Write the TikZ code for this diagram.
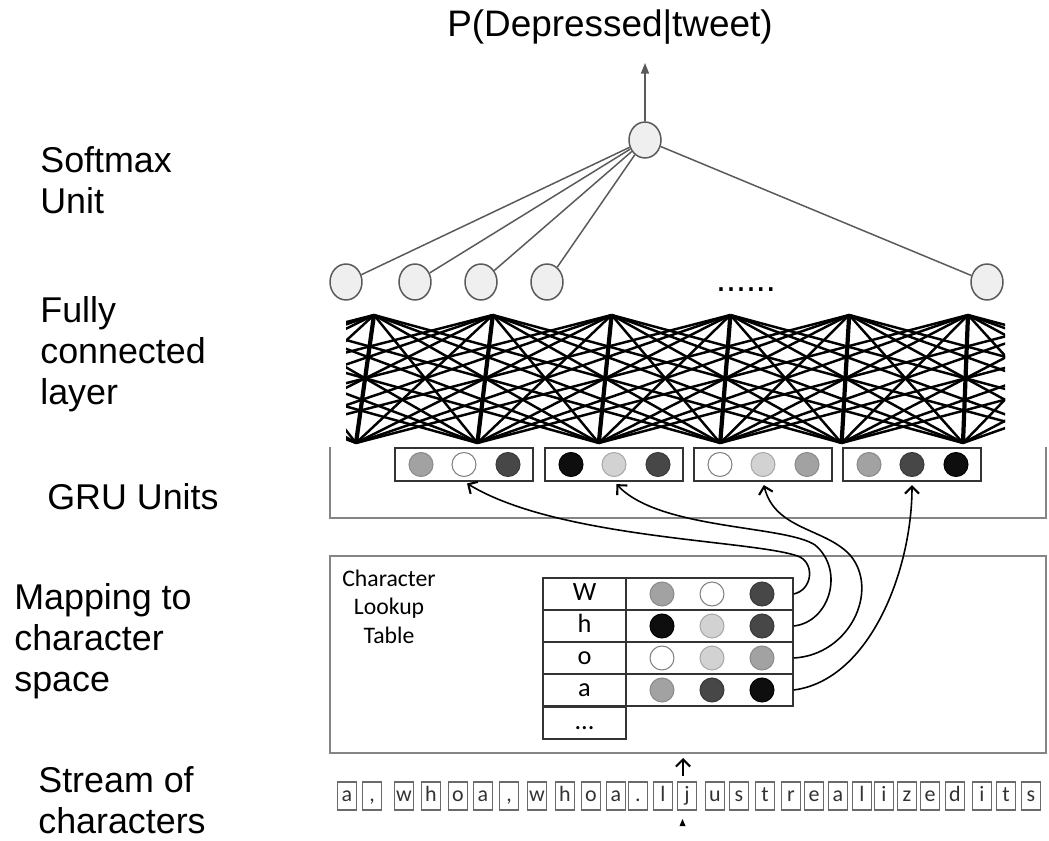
\documentclass[tikz,border=0pt]{standalone}
\usepackage{fontspec}
\setmainfont{Liberation Sans}
\newfontfamily\calfont{Carlito}
\usepackage{tikz}
\usetikzlibrary{arrows.meta,positioning,shapes.geometric}

\definecolor{edgegray}{HTML}{5A5A5A}
\definecolor{nodefill}{HTML}{EFEFEF}
\definecolor{panelgray}{HTML}{858585}
\definecolor{tabgray}{HTML}{333333}
\definecolor{dmidc}{HTML}{A2A2A2}
\definecolor{dlightc}{HTML}{D2D2D2}
\definecolor{ddarkc}{HTML}{474747}
\definecolor{dblackc}{HTML}{0E0E0E}

\begin{document}
\begin{tikzpicture}[
  x=0.02cm, y=-0.02cm,
  lbl/.style={anchor=north west, align=left, inner sep=0,
    font=\fontsize{20.4}{23.2}\selectfont},
  unit/.style={ellipse, draw=edgegray, fill=nodefill, line width=0.85pt,
    minimum width=0.64cm, minimum height=0.72cm, inner sep=0},
  edge/.style={draw=edgegray, line width=0.85pt},
  wire/.style={line width=1.4pt, black},
  panel/.style={draw=panelgray, line width=0.85pt},
  unitbox/.style={rectangle, draw=tabgray, line width=0.7pt,
    minimum width=2.76cm, minimum height=0.66cm, inner sep=0},
  dot/.style={circle, minimum size=0.48cm, inner sep=0, line width=0.6pt},
  dmid/.style={fill=dmidc, draw=dmidc!85!black},
  dwhite/.style={fill=white, draw=gray},
  dlight/.style={fill=dlightc, draw=dlightc!80!black},
  ddark/.style={fill=ddarkc, draw=ddarkc!80!black},
  dblack/.style={fill=dblackc, draw=black},
  keycell/.style={rectangle, draw=tabgray, line width=0.8pt, inner sep=0,
    minimum width=1.66cm, minimum height=0.64cm, text height=1.6ex, text depth=0.3ex,
    font=\calfont\fontsize{15}{17}\selectfont},
  veccell/.style={keycell, minimum width=3.34cm},
  chbox/.style={rectangle, draw=panelgray!80!black, line width=0.7pt, inner sep=0,
    minimum width=0.38cm, minimum height=0.56cm, text height=1.6ex, text depth=0.4ex,
    text=tabgray, font=\calfont\fontsize{12.5}{14}\selectfont},
  link/.style={line width=0.9pt, -{Straight Barb[length=4pt,width=8pt,line width=1.2pt]}, shorten >=2pt}
]
  \useasboundingbox (0,0) rectangle (1049,841);

  % layer names
  \node[lbl] (lsm) at (40,146.5) {Softmax\\Unit};
  \node[lbl] (lfc) at (40,296.5) {Fully\\connected\\layer};
  \node[lbl] (lgru) at (47,483.5) {GRU Units};
  \node[lbl] (lmap) at (14,583.5) {Mapping to\\character\\space};
  \node[lbl] (lstr) at (38,766.5) {Stream of\\characters};

  % softmax and output
  \node[font=\fontsize{21}{24}\selectfont, anchor=base] (title) at (610,37) {P(Depressed|tweet)};
  \node[unit] (sm) at (645,140) {};
  \coordinate (out) at (645,63);
  \draw[edge, -{Triangle[length=6pt,width=4.5pt]}] (sm) -- (out);
  \foreach \x [count=\k] in {346,415,481,547,987}
    \node[unit] (h\k) at (\x,282) {};
  \foreach \k in {1,...,5}
    \draw[edge] (sm) -- (h\k);
  \node[font=\fontsize{20.4}{24}\selectfont, anchor=base] (more) at (746,292) {......};

  % panels
  \draw[panel] (330,447) |- (1046,518) -- (1046,447);
  \draw[panel] (330,556) rectangle (1046,753);

  % fully connected mesh
  \begin{scope}
    \clip (346,312) rectangle (1005,446);
    \foreach \k in {0,...,21} {
      \coordinate (t\k) at ({374+118.8*(\k-8)},315);
      \coordinate (b\k) at ({356+121.4*(\k-8)},443);
    }
    \foreach \k in {5,...,16}
      \foreach \d in {-4,...,4} {
        \pgfmathtruncatemacro\m{\k+\d}
        \draw[wire] (t\k) -- (b\m);
      }
    \foreach \k in {5,...,16}
      \draw[wire, line width=2.4pt] (t\k) -- (b\k);
  \end{scope}

  % GRU units
  \foreach \x/\ca/\cb/\cc [count=\k] in {464/dmid/dwhite/ddark, 614/dblack/dlight/ddark,
      763/dwhite/dlight/dmid, 912/dmid/ddark/dblack} {
    \node[unitbox] (u\k) at (\x,464.5) {};
    \node[dot,\ca] (ua\k) at (\x-43,464.5) {};
    \node[dot,\cb] (ub\k) at (\x,464.5) {};
    \node[dot,\cc] (uc\k) at (\x+44,464.5) {};
  }

  % lookup table
  \node[font=\calfont\fontsize{13.5}{16}\selectfont, align=center, anchor=north, inner sep=0]
    (lkt) at (389,570) {Character\\Lookup\\Table};
  \foreach \ch/\y/\ca/\cb/\cc [count=\r] in {W/594/dmid/dwhite/ddark, h/626/dblack/dlight/ddark,
      o/658/dwhite/dlight/dmid, a/690/dmid/ddark/dblack} {
    \node[keycell] (c\r) at (584.5,\y) {\ch};
    \node[veccell] (v\r) at (709.5,\y) {};
    \node[dot,\ca] (va\r) at (662,\y) {};
    \node[dot,\cb] (vb\r) at (712,\y) {};
    \node[dot,\cc] (vc\r) at (762,\y) {};
  }
  \node[keycell] (c5) at (584.5,723) {...};

  % rows to GRU units
  \draw[link] (v1.east) .. controls (812,590) and (815,565) .. (800,557)
    .. controls (760,540) and (560,540) .. (u1.south);
  \draw[link] (v2.east) .. controls (830,622) and (845,570) .. (815,545)
    .. controls (785,525) and (660,530) .. (u2.south);
  \draw[link] (v3.east) .. controls (850,655) and (880,590) .. (850,555)
    .. controls (825,528) and (775,530) .. (u3.south);
  \draw[link] (v4.east) .. controls (870,680) and (912,570) .. (u4.south);

  % character stream
  \foreach \ch/\x [count=\k] in {a/347, {,}/372, w/404, h/431, o/458, a/483, {,}/509,
      w/537, h/565, o/591, a/616, ./638, l/663, j/687, u/715, s/739, t/765, r/791,
      e/814, a/838, l/862, i/884, z/907, e/930, d/955, i/982, t/1006, s/1031}
    \node[chbox] (s\k) at (\x,796) {\ch};
  \coordinate (in) at (683,758);
  \draw[link, shorten <=3pt, shorten >=0pt] (s14.north -| in) -- (in);
  \fill (679.5,826) -- (682.5,819) -- (685.5,826) -- cycle;
\end{tikzpicture}
\end{document}
